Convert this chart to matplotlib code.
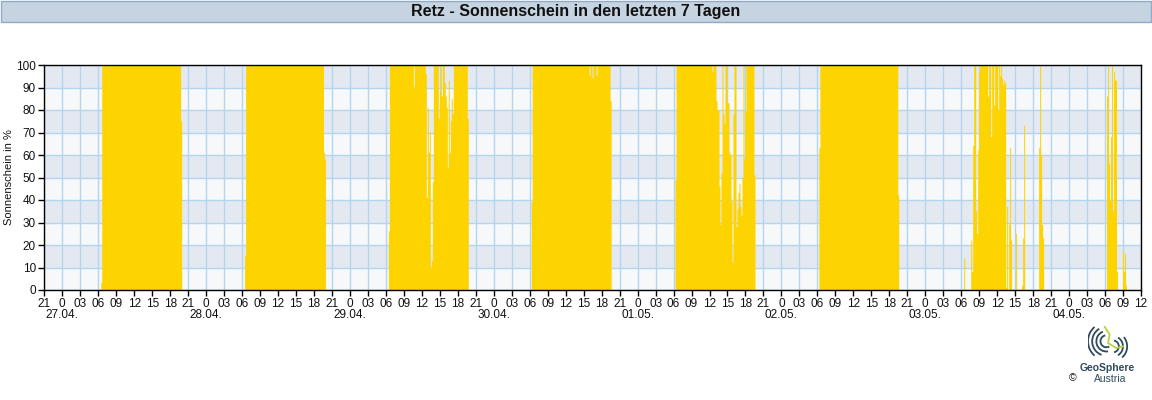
import numpy as np
import matplotlib
matplotlib.use("Agg")
import matplotlib.pyplot as plt
from matplotlib.patches import Rectangle, Arc
from matplotlib.transforms import blended_transform_factory

plt.rcParams['font.family'] = ['Liberation Sans', 'DejaVu Sans']

# ---------------- data ----------------
# 10-minute sunshine values in %, index 0 = 26.04. 21:00
n_intervals = 1098  # up to 04.05. 12:00

day_starts = [57, 201, 345, 488, 632, 776, 921, 1064]

day_27_04 = [3] + [100] * 79 + [75]
day_28_04 = [15] + [100] * 78 + [61, 58]
day_29_04 = ([26] + [100] * 24 + [90] + [100] * 11 +
             [96, 41, 81, 61, 70, 10, 13, 48] + [100] * 5 +
             [76, 87, 100, 86, 100, 100, 92, 86, 81, 54, 93, 61, 75, 85, 78] +
             [100] * 14 + [76])
day_30_04 = ([39] + [100] * 57 + [95, 100, 100, 94, 100, 100, 100, 95] +
             [100] * 13 + [84])
day_01_05 = ([49] + [100] * 36 + [97] + [100] * 3 +
             [84, 80, 80, 46, 29, 52, 100, 78, 74, 100,
              100, 83, 83, 61, 60, 39, 12, 78, 100, 100,
              28, 36, 43, 47, 37, 33, 50, 100, 58, 79] +
             [100] * 8 + [51])
day_02_05 = [63] + [100] * 78 + [42]
day_03_05 = ([14, 0, 0, 0, 0, 0, 0, 22, 8, 64, 100, 100, 35, 25, 62, 97] +
             [100] * 8 +
             [86, 100, 100, 68, 100, 100, 82, 100, 100, 100, 80, 100, 95, 100,
              94, 91, 93, 92, 1, 37, 0, 29, 63, 22, 0, 0, 0, 0, 25,
              0, 0, 0, 0, 0, 2, 23, 73] +
             [0] * 14 + [63, 100, 60, 29, 23])
day_04_05 = [86, 100, 56, 40, 68, 100, 35, 97, 93, 93, 8,
             0, 0, 0, 0, 0, 17, 8, 16, 2]

day_values = [day_27_04, day_28_04, day_29_04, day_30_04,
              day_01_05, day_02_05, day_03_05, day_04_05]

hour_cycle = ["21", "0", "03", "06", "09", "12", "15", "18"]
day_labels = ["27.04.", "28.04.", "29.04.", "30.04.",
              "01.05.", "02.05.", "03.05.", "04.05."]
y_ticks = list(range(0, 101, 10))

title = "Retz - Sonnenschein in den letzten 7 Tagen"
ylabel = "Sonnenschein in %"

# ---------------- build series ----------------
values = np.zeros(n_intervals)
for s, v in zip(day_starts, day_values):
    values[s:s + len(v)] = v
edges = np.arange(n_intervals + 1) / 6.0  # hours since 26.04. 21:00
total_h = n_intervals / 6.0

# ---------------- figure ----------------
W, H = 1152, 400
fig = plt.figure(figsize=(W / 100, H / 100), dpi=100)
fig.patch.set_facecolor('white')

# title bar
fig.patches.append(Rectangle((1 / W, 1 - 21.5 / H), 1149.5 / W, 21 / H,
                             transform=fig.transFigure, facecolor='#c6d4e1',
                             edgecolor='#8eaac6', linewidth=1.0))
fig.text(576 / W, 1 - 11.5 / H, title, ha='center', va='center',
         fontsize=11.5, fontweight='bold', color='#111111')

left, right, top, bottom = 44.3, 1141, 65, 290
ax = fig.add_axes([left / W, 1 - bottom / H, (right - left) / W, (bottom - top) / H])
ax.set_facecolor('#f6f8fa')
for lo in range(10, 100, 20):
    ax.axhspan(lo, lo + 10, color='#e4e9f1', zorder=0, linewidth=0)

ax.set_xlim(0, total_h)
ax.set_ylim(0, 100)

xt = np.arange(0, total_h + 0.1, 3)
ax.set_xticks(xt)
ax.set_xticklabels([hour_cycle[i % 8] for i in range(len(xt))])
ax.set_yticks(y_ticks)
ax.set_yticklabels([str(v) for v in y_ticks])

ax.grid(True, color='#b3d5ef', linewidth=1.0, zorder=1)
ax.set_axisbelow(True)

ax.stairs(values, edges, fill=True, color='#fdd400', linewidth=0, zorder=2)

for sp in ax.spines.values():
    sp.set_color('black')
    sp.set_linewidth(1.0)
    sp.set_zorder(5)

ax.tick_params(axis='both', direction='out', length=4, width=1, color='black',
               labelsize=8.5, labelcolor='#111111')
ax.tick_params(axis='x', pad=2)
ax.tick_params(axis='y', pad=2)

trans = blended_transform_factory(ax.transData, fig.transFigure)
for k, lab in enumerate(day_labels):
    ax.text(3 + 24 * k, 1 - 315 / H, lab, transform=trans, ha='center',
            va='center', fontsize=8.5, color='#111111')

fig.text(9 / W, 1 - 177 / H, ylabel, rotation=90, ha='center', va='center',
         fontsize=8, color='#111111')

# logo
lax = fig.add_axes([1088 / W, 1 - 360 / H, 40 / W, 34 / H])
lax.set_xlim(-1.2, 1.2)
lax.set_ylim(-1.0, 1.0)
lax.axis('off')
dark = '#2e4b5b'
for r, a1, a2 in [(0.35, 100, 300), (0.6, 110, 280), (0.85, 120, 250),
                  (1.1, 130, 230)]:
    lax.add_patch(Arc((-0.1, 0.1), r * 2, r * 2, theta1=a1, theta2=a2,
                      color=dark, lw=1.3))
for r, a1, a2 in [(0.35, 280, 80), (0.6, 300, 60), (0.85, 310, 40)]:
    lax.add_patch(Arc((0.3, -0.2), r * 2, r * 2, theta1=a1, theta2=a2,
                      color=dark, lw=1.3))
lax.plot([-0.2, 0.1, 0.0, 0.5, 0.9], [0.95, 0.5, 0.0, -0.3, -0.2],
         color='#b8d23f', lw=1.3)

fig.text(1107 / W, 1 - 368 / H, "GeoSphere", ha='center', va='center',
         fontsize=7.5, fontweight='bold', color=dark)
fig.text(1110 / W, 1 - 379 / H, "Austria", ha='center', va='center',
         fontsize=7.5, color=dark)
fig.text(1073 / W, 1 - 378 / H, "\u00a9", ha='center', va='center',
         fontsize=7.5, color='#111111')

fig.savefig("out.png", dpi=100, facecolor='white')
